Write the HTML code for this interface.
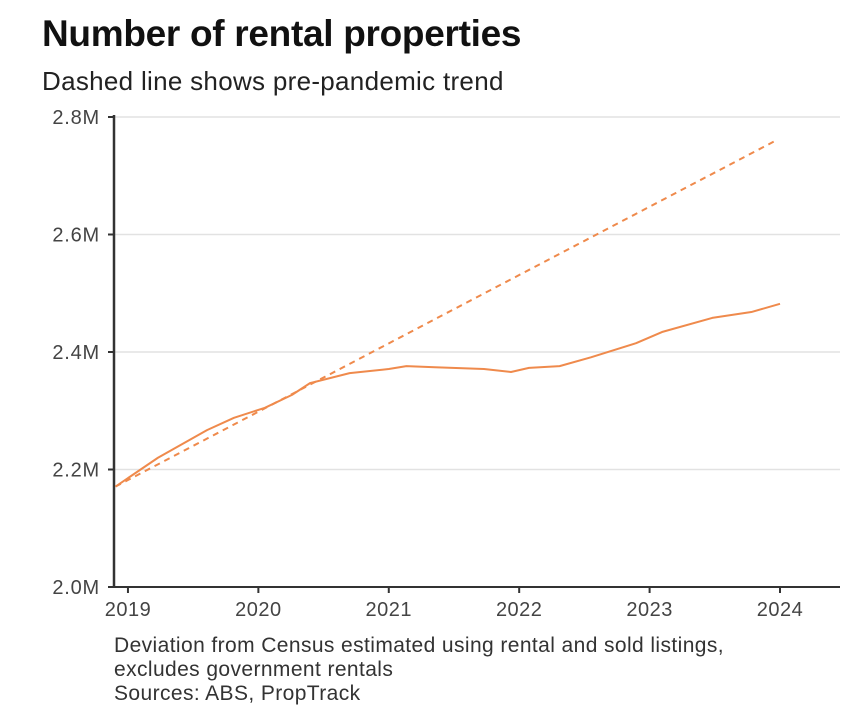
<!DOCTYPE html>
<html><head><meta charset="utf-8"><style>
body{margin:0;background:#fff;font-family:"Liberation Sans",sans-serif;}
svg text{font-family:"Liberation Sans",sans-serif;}
</style></head><body>
<svg width="856" height="720">
<text x="42" y="46" font-size="37" font-weight="bold" fill="#111" letter-spacing="-0.3">Number of rental properties</text>
<text x="42" y="90" font-size="26" fill="#222" letter-spacing="0.3">Dashed line shows pre-pandemic trend</text>
<g id="grid"></g><g id="axes"></g><g id="series"></g>
<text x="114" y="652" font-size="21" fill="#333" letter-spacing="0.4">Deviation from Census estimated using rental and sold listings,</text>
<text x="114" y="676" font-size="21" fill="#333" letter-spacing="0.4">excludes government rentals</text>
<text x="114" y="700" font-size="21" fill="#333" letter-spacing="0.4">Sources: ABS, PropTrack</text>
</svg>
<script>
const yTicks=[2.0,2.2,2.4,2.6,2.8];
const yTickLabels=["2.0M","2.2M","2.4M","2.6M","2.8M"];
const xTicks=[2019,2020,2021,2022,2023,2024];
const actualDates=[2018.905,2019.23,2019.606,2019.813,2020.05,2020.258,2020.396,2020.70,2021.0,2021.135,2021.354,2021.73,2021.937,2022.075,2022.31,2022.55,2022.896,2023.095,2023.48,2023.78,2024.0];
const actualValues=[2.171,2.220,2.267,2.288,2.305,2.327,2.347,2.364,2.371,2.376,2.374,2.371,2.366,2.373,2.376,2.391,2.415,2.434,2.458,2.468,2.482];
const trendDates=[2018.905,2023.96];
const trendValues=[2.171,2.759];
const NS="http://www.w3.org/2000/svg";
const X0=114,X1=840,Y0=587,Y1=117;
const xs=d=>X0+(d-2018.893)/(2024.46-2018.893)*(X1-X0);
const ys=v=>Y0-(v-2.0)/(0.8)*(Y0-Y1);
function mk(t,a,p){const e=document.createElementNS(NS,t);for(const k in a)e.setAttribute(k,a[k]);p.appendChild(e);return e;}
const grid=document.getElementById('grid'),axes=document.getElementById('axes'),ser=document.getElementById('series');
yTicks.forEach((v,i)=>{
  if(i>0){const g=mk('line',{x1:X0,x2:X1,y1:ys(v),y2:ys(v),stroke:'#e2e2e2','stroke-width':1.5},grid);
  
  }
  const tk=mk('line',{x1:X0-6,x2:X0,y1:ys(v),y2:ys(v),stroke:'#333','stroke-width':2},axes);
  
  
  const t=mk('text',{x:100,y:ys(v)+7,'font-size':20,fill:'#444','text-anchor':'end','letter-spacing':0.8},axes);
  t.textContent=yTickLabels[i];
  
  
});
xTicks.forEach(d=>{
  const tk=mk('line',{x1:xs(d),x2:xs(d),y1:Y0,y2:Y0+6,stroke:'#333','stroke-width':2},axes);
  
  
  const t=mk('text',{x:xs(d),y:616,'font-size':20,fill:'#444','text-anchor':'middle','letter-spacing':0.5},axes);
  t.textContent=String(d);
  
  
});
const xa=mk('line',{x1:X0,x2:X1,y1:Y0,y2:Y0,stroke:'#333','stroke-width':2},axes);


const ya=mk('line',{x1:X0,x2:X0,y1:Y1-2,y2:Y0+1,stroke:'#333','stroke-width':2.5},axes);


const tr=mk('polyline',{points:trendDates.map((d,i)=>xs(d)+','+ys(trendValues[i])).join(' '),fill:'none',stroke:'#ef8a4c','stroke-width':2,'stroke-dasharray':'6,5'},ser);


const ac=mk('polyline',{points:actualDates.map((d,i)=>xs(d)+','+ys(actualValues[i])).join(' '),fill:'none',stroke:'#ef8a4c','stroke-width':2,'stroke-linejoin':'round'},ser);


</script>
</body></html>
